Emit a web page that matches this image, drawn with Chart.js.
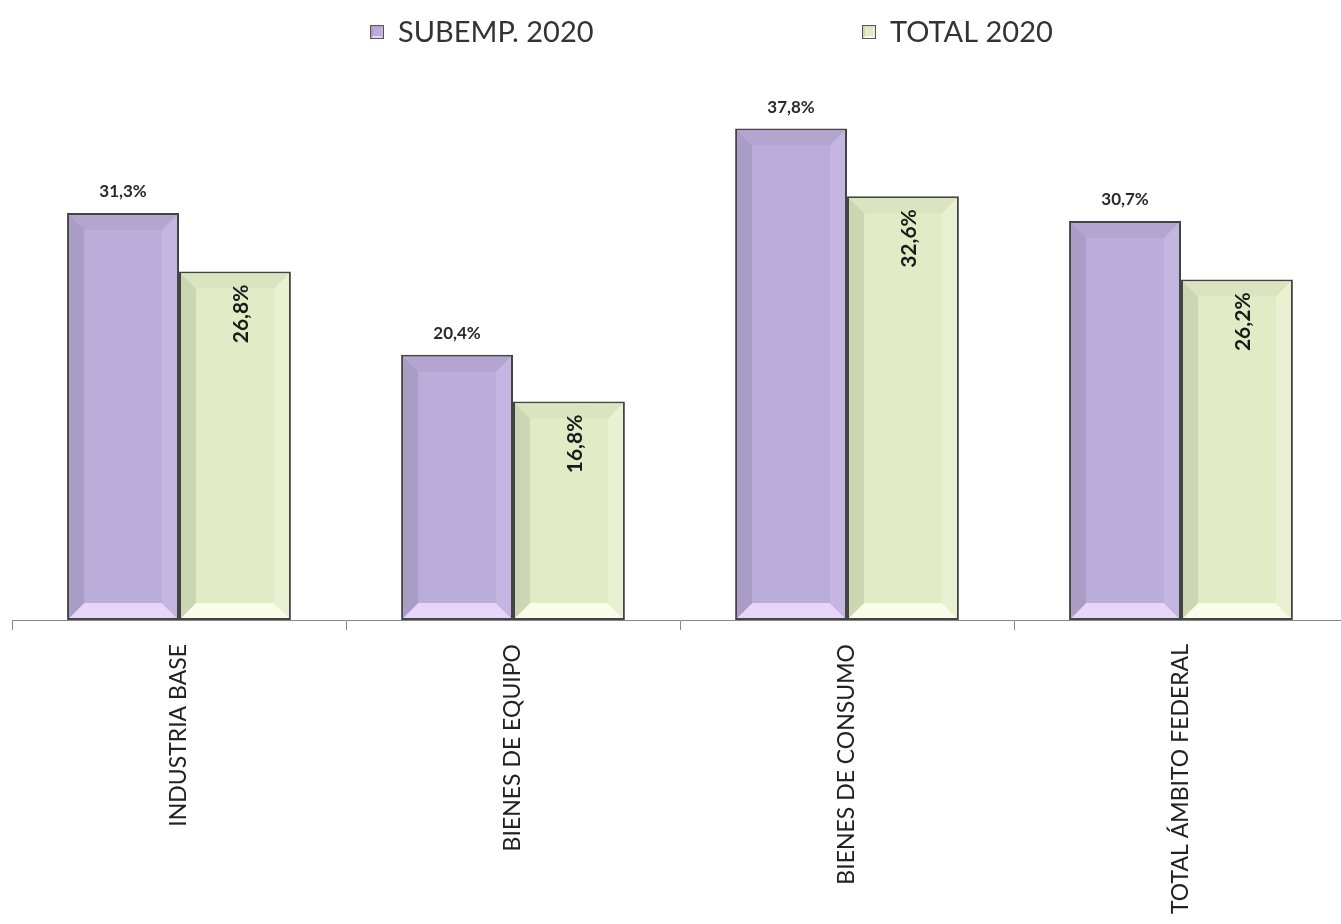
<!DOCTYPE html>
<html>
<head>
<meta charset="utf-8">
<script src="https://cdn.jsdelivr.net/npm/chart.js@4.4.1/dist/chart.umd.min.js"></script>
<style>
html,body{margin:0;padding:0;background:#fff;overflow:hidden;}
#wrap{width:1350px;height:924px;}
</style>
</head>
<body>
<div id="wrap"><canvas id="c" width="1350" height="924"></canvas></div>
<script>
const categories = ['INDUSTRIA BASE', 'BIENES DE EQUIPO', 'BIENES DE CONSUMO', 'TOTAL ÁMBITO FEDERAL'];
const seriesNames = ['SUBEMP. 2020', 'TOTAL 2020'];
const subemp2020 = [31.3, 20.4, 37.8, 30.7];
const total2020 = [26.8, 16.8, 32.6, 26.2];

const palette = [
  {face:'#BBADD9', top:'#B3A5D0', bottom:'#E7D6F8', left:'#AA9DC5', right:'#C4B6E1'},
  {face:'#E1EBC6', top:'#DAE4BE', bottom:'#F8FCE8', left:'#CDD6B2', right:'#E9F1D2'}
];

function fmt(v){ return v.toFixed(1).replace('.', ',') + '%'; }

function bevel(ctx, l, t, r, b, s, c){
  const poly = (pts, col) => {
    ctx.beginPath();
    ctx.moveTo(pts[0][0], pts[0][1]);
    for (let i = 1; i < pts.length; i++) ctx.lineTo(pts[i][0], pts[i][1]);
    ctx.closePath();
    ctx.fillStyle = col;
    ctx.fill();
  };
  poly([[l,t],[r,t],[r-s,t+s],[l+s,t+s]], c.top);
  poly([[l,b],[r,b],[r-s,b-s],[l+s,b-s]], c.bottom);
  poly([[l,t],[l+s,t+s],[l+s,b-s],[l,b]], c.left);
  poly([[r,t],[r-s,t+s],[r-s,b-s],[r,b]], c.right);
}

const bevelPlugin = {
  id: 'bevel',
  afterDatasetsDraw(chart){
    const ctx = chart.ctx;
    ctx.save();
    chart.data.datasets.forEach((ds, di) => {
      const meta = chart.getDatasetMeta(di);
      meta.data.forEach(el => {
        const p = el.getProps(['x','y','base','width'], true);
        const bw = 2;
        const l = p.x - p.width/2 + bw, r = p.x + p.width/2 - bw;
        const t = p.y + bw, b = p.base - bw;
        bevel(ctx, l, t, r, b, 15, palette[di]);
      });
    });
    ctx.restore();
  }
};

const labelPlugin = {
  id: 'valueLabels',
  afterDatasetsDraw(chart){
    const ctx = chart.ctx;
    ctx.save();
    chart.data.datasets.forEach((ds, di) => {
      const meta = chart.getDatasetMeta(di);
      meta.data.forEach((el, i) => {
        const p = el.getProps(['x','y','base','width'], true);
        const txt = fmt(ds.data[i]);
        if (di === 0) {
          ctx.fillStyle = '#2a2a2a';
          ctx.font = 'bold 17px Lato';
          ctx.textAlign = 'center';
          ctx.textBaseline = 'bottom';
          ctx.fillText(txt, p.x, p.y - 13);
        } else {
          ctx.save();
          ctx.fillStyle = '#1a1a1a';
          ctx.translate(p.x + 6, p.y + 13);
          ctx.rotate(-Math.PI/2);
          ctx.font = 'bold 21px Lato';
          ctx.textAlign = 'right';
          ctx.textBaseline = 'middle';
          ctx.fillText(txt, 0, 0);
          ctx.restore();
        }
      });
    });
    ctx.restore();
  }
};

const legendPlugin = {
  id: 'customLegend',
  afterDraw(chart){
    const ctx = chart.ctx;
    const items = [{x:370, label: seriesNames[0]}, {x:862, label: seriesNames[1]}];
    ctx.save();
    items.forEach((it, i) => {
      const c = palette[i];
      const y0 = 25, s = 14;
      ctx.fillStyle = c.face;
      ctx.fillRect(it.x, y0, s, s);
      bevel(ctx, it.x, y0, it.x + s, y0 + s, 3, c);
      ctx.strokeStyle = '#555';
      ctx.lineWidth = 1;
      ctx.strokeRect(it.x + 0.5, y0 + 0.5, s - 1, s - 1);
      ctx.fillStyle = '#333';
      ctx.font = '29px Lato';
      ctx.textAlign = 'left';
      ctx.textBaseline = 'middle';
      ctx.fillText(it.label, it.x + 28, y0 + s/2 + 1);
    });
    ctx.restore();
  }
};

new Chart(document.getElementById('c'), {
  type: 'bar',
  data: {
    labels: categories,
    datasets: [
      {label: seriesNames[0], data: subemp2020, backgroundColor: palette[0].face, borderColor: '#444', borderWidth: 2, borderSkipped: false},
      {label: seriesNames[1], data: total2020, backgroundColor: palette[1].face, borderColor: '#444', borderWidth: 2, borderSkipped: false}
    ]
  },
  options: {
    responsive: false,
    animation: false,
    events: [],
    layout: {padding: {top: 100, left: 12, right: 2, bottom: 0}},
    datasets: {bar: {categoryPercentage: 0.67, barPercentage: 1.0}},
    plugins: {legend: {display: false}, tooltip: {enabled: false}},
    scales: {
      y: {display: false, min: 0, max: 40},
      x: {
        afterFit(scale){ scale.height = 304; },
        grid: {display: true, drawOnChartArea: false, drawTicks: true, tickLength: 10, color: '#888', offset: true},
        border: {display: true, color: '#888', width: 1},
        ticks: {maxRotation: 90, minRotation: 90, padding: 14, color: '#222', font: {family: 'Lato', size: 23}}
      }
    }
  },
  plugins: [bevelPlugin, labelPlugin, legendPlugin]
});
</script>
</body>
</html>
